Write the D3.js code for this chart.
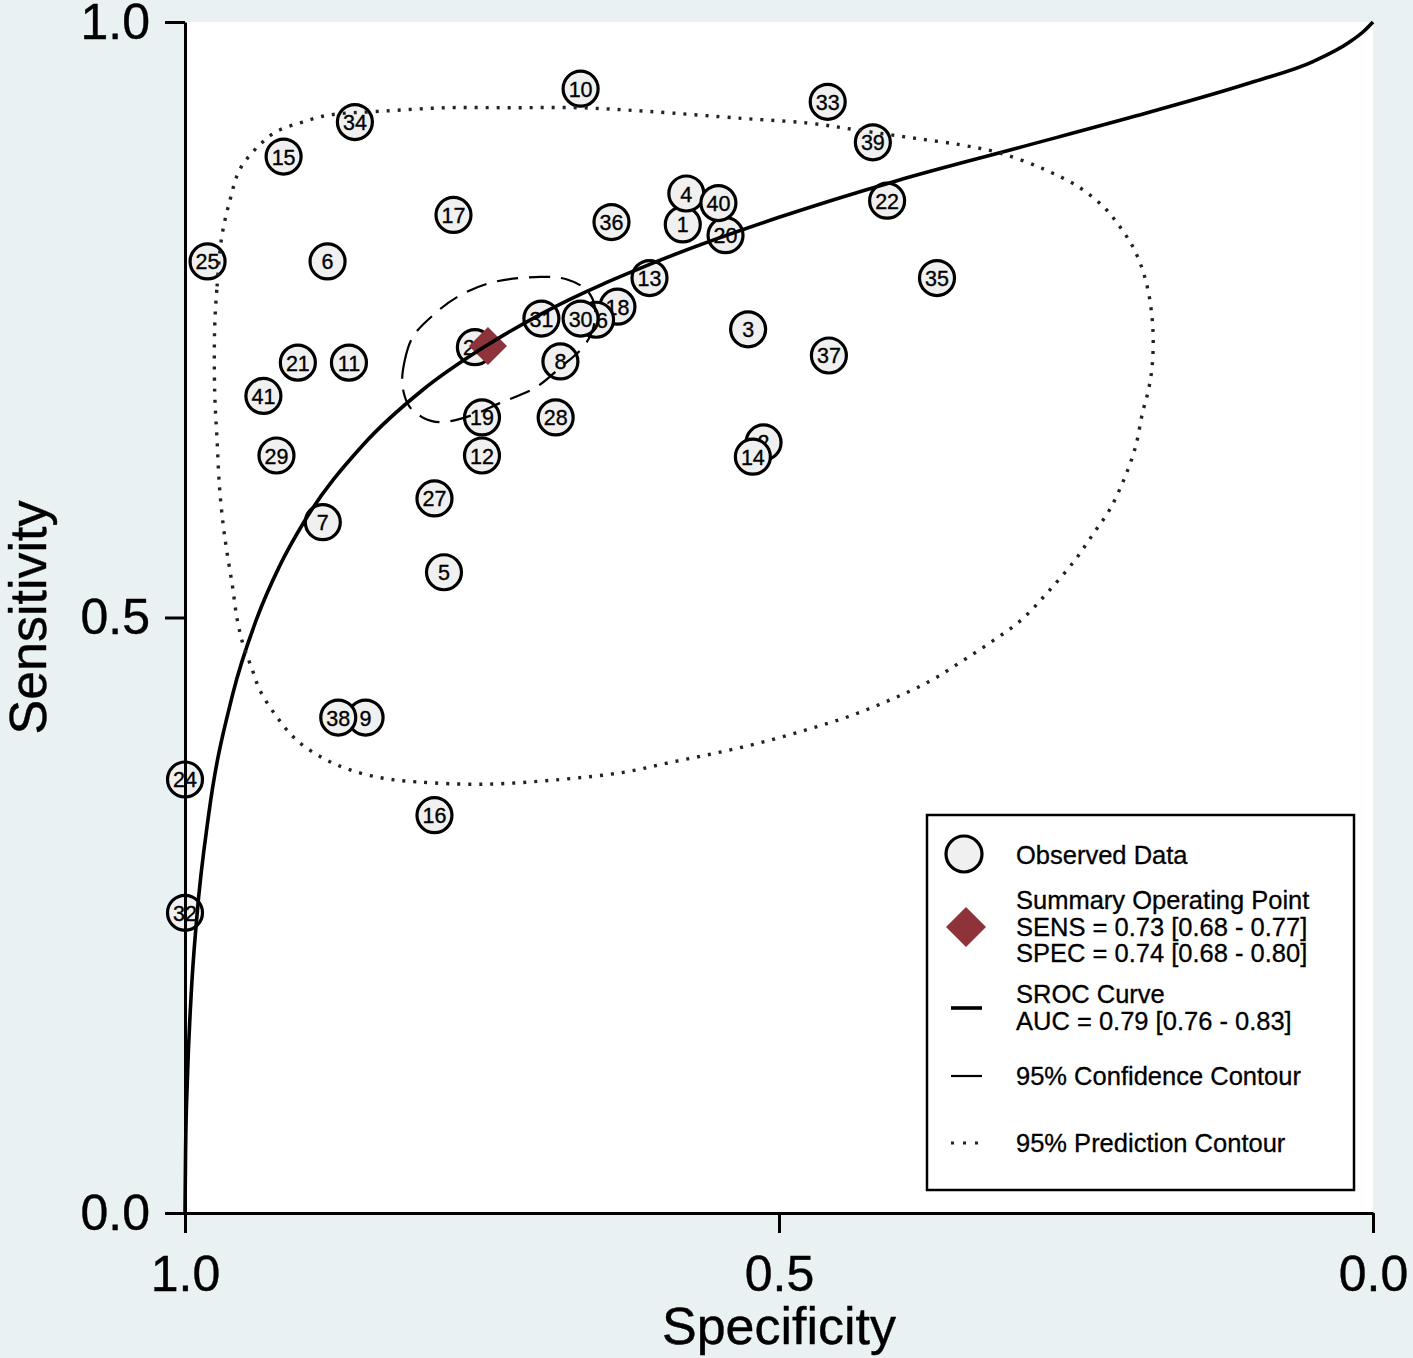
<!DOCTYPE html>
<html><head><meta charset="utf-8">
<script src="https://cdn.jsdelivr.net/npm/d3@7"></script>
<style>
body{margin:0;background:#e9f1f3;}
svg{display:block;}
text{font-family:"Liberation Sans",Arial,Helvetica,sans-serif;fill:#000;}
</style>
</head><body>
<svg id="chart" width="1413" height="1358"></svg>
<script>
// ---------- DATA ----------
const studyIds  = [1,2,3,4,5,6,7,8,9,10,11,12,13,14,15,16,17,18,19,20,21,22,23,24,25,26,27,28,29,30,31,32,33,34,35,36,37,38,39,40,41];
const studySpec = [0.581,0.513,0.526,0.578,0.782,0.880,0.884,0.684,0.848,0.667,0.862,0.750,0.609,0.522,0.917,0.790,0.774,0.636,0.750,0.545,0.905,0.409,0.756,1.000,0.981,0.654,0.790,0.688,0.923,0.667,0.700,1.000,0.459,0.857,0.367,0.641,0.458,0.871,0.421,0.551,0.934];
const studySens = [0.830,0.647,0.742,0.856,0.538,0.799,0.580,0.715,0.416,0.944,0.714,0.636,0.785,0.635,0.887,0.334,0.838,0.761,0.668,0.821,0.714,0.850,0.727,0.364,0.799,0.750,0.600,0.668,0.636,0.751,0.751,0.252,0.933,0.916,0.785,0.832,0.720,0.416,0.899,0.848,0.686];

const summarySpec = 0.745;
const summarySens = 0.728;

// SROC curve
const srocSpec = [1.000,0.9995,0.998,0.995,0.990,0.980,0.960,0.940,0.920,0.900,0.850,0.800,0.750,0.700,0.600,0.500,0.400,0.300,0.200,0.100,0.050,0.020,0.008,0.000];
const srocSens = [0.000,0.053,0.112,0.180,0.249,0.335,0.435,0.498,0.544,0.580,0.645,0.691,0.726,0.755,0.800,0.836,0.867,0.894,0.921,0.950,0.967,0.983,0.992,1.000];

// 95% confidence contour
const confSpec = [0.817,0.815,0.808,0.791,0.771,0.743,0.701,0.679,0.662,0.655,0.657,0.665,0.684,0.705,0.735,0.758,0.785,0.800,0.811];
const confSens = [0.695,0.716,0.736,0.754,0.769,0.781,0.786,0.784,0.775,0.761,0.741,0.727,0.710,0.693,0.680,0.670,0.664,0.668,0.677];

// 95% prediction contour
const predSpec = [0.975,0.973,0.969,0.962,0.954,0.939,0.923,0.901,0.878,0.836,0.780,0.724,0.668,0.611,0.530,0.474,0.432,0.390,0.348,0.314,0.276,0.247,0.226,0.213,0.202,0.194,0.189,0.186,0.185,0.186,0.189,0.194,0.200,0.210,0.222,0.235,0.251,0.274,0.296,0.322,0.348,0.374,0.406,0.441,0.476,0.515,0.554,0.593,0.631,0.684,0.749,0.805,0.833,0.861,0.884,0.906,0.923,0.937,0.944,0.951,0.956,0.960,0.965,0.968,0.971,0.973,0.975];
const predSens = [0.744,0.778,0.820,0.851,0.876,0.895,0.908,0.916,0.922,0.925,0.928,0.928,0.928,0.925,0.919,0.915,0.909,0.903,0.897,0.890,0.876,0.861,0.844,0.828,0.811,0.792,0.773,0.752,0.733,0.710,0.691,0.672,0.643,0.615,0.590,0.571,0.548,0.521,0.498,0.479,0.462,0.446,0.431,0.417,0.406,0.395,0.386,0.378,0.370,0.364,0.360,0.362,0.365,0.372,0.382,0.397,0.417,0.439,0.458,0.477,0.498,0.526,0.557,0.579,0.610,0.649,0.689];

const tickValues = [0, 0.5, 1];
const xTitle = "Specificity";
const yTitle = "Sensitivity";
const legendLabels = {
  observed: ["Observed Data"],
  summary: ["Summary Operating Point","SENS = 0.73 [0.68 - 0.77]","SPEC = 0.74 [0.68 - 0.80]"],
  sroc: ["SROC Curve","AUC = 0.79 [0.76 - 0.83]"],
  conf: ["95% Confidence Contour"],
  pred: ["95% Prediction Contour"]
};

// ---------- DRAW ----------
const svg = d3.select("#chart");
const L = 185, R = 1373, T = 22, B = 1213;
const x = d3.scaleLinear().domain([1,0]).range([L,R]);
const y = d3.scaleLinear().domain([0,1]).range([B,T]);

svg.append("rect").attr("x",0).attr("y",0).attr("width",1413).attr("height",1358).attr("fill","#e9f1f3");
svg.append("rect").attr("x",L).attr("y",T).attr("width",R-L).attr("height",B-T).attr("fill","#ffffff");

const pts = (sx, sy) => sx.map((v,i)=>[x(v), y(sy[i])]);

// Observed points
const cred = "#8e333a";
const g = svg.append("g");
studyIds.forEach((id,i)=>{
  const cx = x(studySpec[i]), cy = y(studySens[i]);
  g.append("circle").attr("cx",cx).attr("cy",cy).attr("r",17.5)
    .attr("fill","#f0f0f0").attr("stroke","#000").attr("stroke-width",3.2);
  g.append("text").attr("x",cx).attr("y",cy+1).attr("text-anchor","middle")
    .attr("dominant-baseline","central").attr("font-size",21.5)
    .attr("stroke","#000").attr("stroke-width",0.35).text(id);
});

// Summary diamond
const dsz = 19;
const diamond = (cx,cy,s)=>`M${cx},${cy-s}L${cx+s},${cy}L${cx},${cy+s}L${cx-s},${cy}Z`;
svg.append("path").attr("d",diamond(x(summarySpec),y(summarySens),dsz)).attr("fill",cred);

// SROC curve
svg.append("path").attr("d", d3.line().curve(d3.curveMonotoneX)(pts(srocSpec,srocSens)))
  .attr("fill","none").attr("stroke","#000").attr("stroke-width",3.6);

// Confidence contour
svg.append("path").attr("d", d3.line().curve(d3.curveCatmullRomClosed)(pts(confSpec,confSens)))
  .attr("fill","none").attr("stroke","#000").attr("stroke-width",2.2).attr("stroke-dasharray","21,11");

// Prediction contour
svg.append("path").attr("d", d3.line().curve(d3.curveCatmullRomClosed)(pts(predSpec,predSens)))
  .attr("fill","none").attr("stroke","#222").attr("stroke-width",3.4).attr("stroke-dasharray","3,8");

// Axes
const fmt = d3.format(".1f");
const ax = svg.append("g").attr("transform",`translate(0,${B})`)
  .call(d3.axisBottom(x).tickValues(tickValues).tickFormat(fmt).tickSize(20).tickSizeOuter(0).tickPadding(22));
const ay = svg.append("g").attr("transform",`translate(${L},0)`)
  .call(d3.axisLeft(y).tickValues(tickValues).tickFormat(fmt).tickSize(20).tickSizeOuter(0).tickPadding(15));
[ax,ay].forEach(a=>{
  a.select(".domain").attr("stroke","#000").attr("stroke-width",3);
  a.selectAll(".tick line").attr("stroke","#000").attr("stroke-width",3);
  a.selectAll(".tick text").attr("font-size",50).attr("fill","#000")
   .attr("stroke","#000").attr("stroke-width",0.4)
   .style("font-family",'"Liberation Sans",Arial,sans-serif');
});

// Axis titles
svg.append("text").attr("x",(L+R)/2).attr("y",1344).attr("text-anchor","middle").attr("font-size",52)
  .attr("stroke","#000").attr("stroke-width",0.4).text(xTitle);
svg.append("text").attr("transform",`translate(46,${(T+B)/2}) rotate(-90)`).attr("text-anchor","middle").attr("font-size",52)
  .attr("stroke","#000").attr("stroke-width",0.4).text(yTitle);

// Legend
const lg = svg.append("g");
lg.append("rect").attr("x",927).attr("y",815).attr("width",427).attr("height",375)
  .attr("fill","#fff").attr("stroke","#000").attr("stroke-width",2.5);
const tx = 1016, fs = 25.5;
const addText = (lines, y0, dy)=>lines.forEach((t,i)=>lg.append("text").attr("x",tx).attr("y",y0+i*dy)
  .attr("font-size",fs).attr("stroke","#000").attr("stroke-width",0.3).text(t));
lg.append("circle").attr("cx",964).attr("cy",854).attr("r",18).attr("fill","#f0f0f0").attr("stroke","#000").attr("stroke-width",3.2);
addText(legendLabels.observed, 864, 27);
lg.append("path").attr("d",diamond(966,927,20)).attr("fill",cred);
addText(legendLabels.summary, 909, 26.5);
lg.append("line").attr("x1",951).attr("x2",982).attr("y1",1008).attr("y2",1008).attr("stroke","#000").attr("stroke-width",3.6);
addText(legendLabels.sroc, 1003, 27);
lg.append("line").attr("x1",951).attr("x2",982).attr("y1",1076).attr("y2",1076).attr("stroke","#000").attr("stroke-width",2.2);
addText(legendLabels.conf, 1085, 27);
lg.append("line").attr("x1",951).attr("x2",984).attr("y1",1143).attr("y2",1143).attr("stroke","#222").attr("stroke-width",3.2).attr("stroke-dasharray","3,9");
addText(legendLabels.pred, 1152, 27);
</script>
</body></html>
